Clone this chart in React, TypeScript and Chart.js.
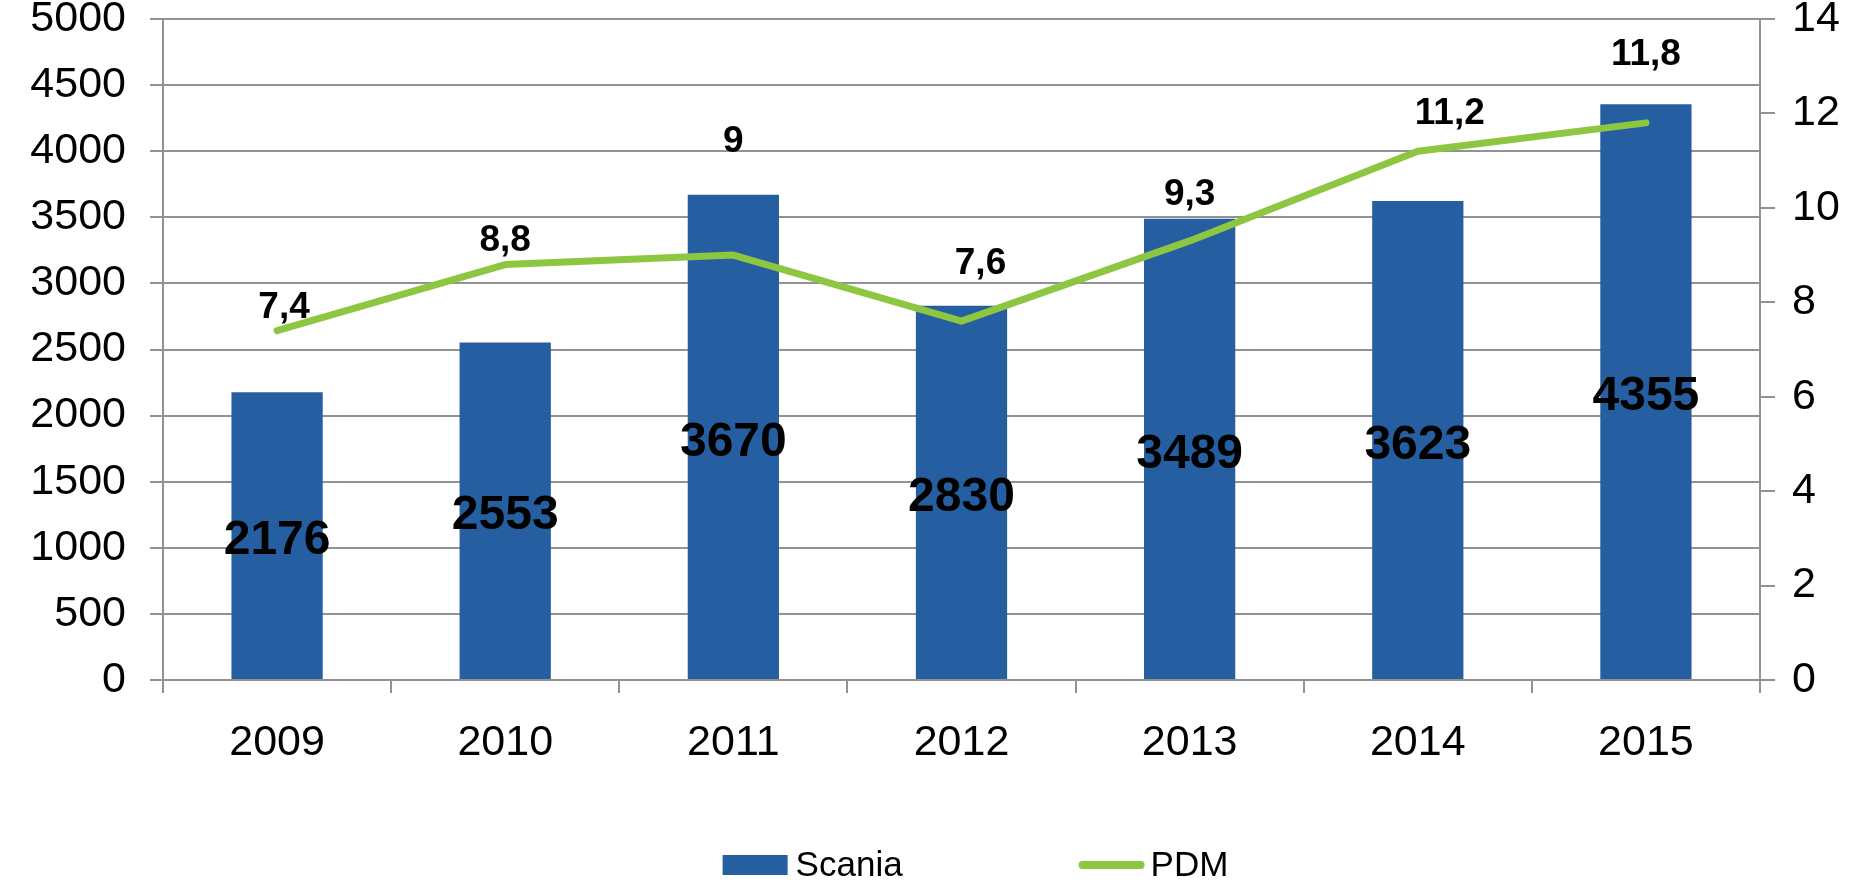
import React, { useEffect, useRef } from 'react';
import { Chart, registerables } from 'chart.js';

Chart.register(...registerables);

// ---- data ----
const categories = ['2009', '2010', '2011', '2012', '2013', '2014', '2015'];
const scaniaValues = [2176, 2553, 3670, 2830, 3489, 3623, 4355];
const pdmValues = [7.4, 8.8, 9, 7.6, 9.3, 11.2, 11.8];
const seriesNames = ['Scania', 'PDM'];
const leftAxis = { min: 0, max: 5000, step: 500 };
const rightAxis = { min: 0, max: 14, step: 2 };

// ---- styling ----
const BLUE = '#265FA1';
const GREEN = '#8DC641';
const GRID = '#929292';
const FONT = '"Liberation Sans", Arial, sans-serif';
const TICK_SIZE = 43;
// label offsets (px) of the PDM value labels relative to their points
const pdmLabelDx = [7, 0, 0, 19, 0, 32, 0];
const pdmLabelDy = [-23, -24, -113, -57, -46, -37, -68];
const barLabelDy = 5;

const fmt = (v: number) => String(v).replace('.', ',');

const labelPlugin = {
  id: 'valueLabels',
  afterDatasetsDraw(chart: any) {
    const ctx = chart.ctx;
    const y = chart.scales.y;
    const barMeta = chart.getDatasetMeta(0);
    const lineMeta = chart.getDatasetMeta(1);
    ctx.save();
    ctx.fillStyle = '#000';
    ctx.textAlign = 'center';
    ctx.textBaseline = 'middle';
    ctx.font = `bold 48px ${FONT}`;
    barMeta.data.forEach((el: any, i: number) => {
      const v = scaniaValues[i];
      ctx.fillText(String(v), el.x, y.getPixelForValue(v / 2) + barLabelDy);
    });
    ctx.font = `bold 37px ${FONT}`;
    lineMeta.data.forEach((el: any, i: number) => {
      ctx.fillText(fmt(pdmValues[i]), el.x + pdmLabelDx[i], el.y + pdmLabelDy[i]);
    });
    ctx.restore();
  },
};

const legendPlugin = {
  id: 'customLegend',
  afterDraw(chart: any) {
    const ctx = chart.ctx;
    ctx.save();
    ctx.font = `35px ${FONT}`;
    ctx.textBaseline = 'middle';
    ctx.textAlign = 'left';
    const w1 = ctx.measureText(seriesNames[0]).width;
    const w2 = ctx.measureText(seriesNames[1]).width;
    const boxW = 65, boxH = 20, gapText = 8, gapItems = 176, lineW = 66, gapText2 = 6;
    const total = boxW + gapText + w1 + gapItems + lineW + gapText2 + w2;
    const cy = chart.height - 18;
    let x = chart.width / 2 + 48 - total / 2;
    ctx.fillStyle = BLUE;
    ctx.fillRect(x, cy - boxH / 2, boxW, boxH);
    x += boxW + gapText;
    ctx.fillStyle = '#000';
    ctx.fillText(seriesNames[0], x, cy + 1);
    x += w1 + gapItems;
    ctx.strokeStyle = GREEN;
    ctx.lineWidth = 8;
    ctx.lineCap = 'round';
    ctx.beginPath();
    ctx.moveTo(x + 4, cy);
    ctx.lineTo(x + lineW - 4, cy);
    ctx.stroke();
    x += lineW + gapText2;
    ctx.fillText(seriesNames[1], x, cy + 1);
    ctx.restore();
  },
};

export default function App() {
  const ref = useRef<HTMLCanvasElement | null>(null);

  useEffect(() => {
    document.body.style.margin = '0';
    if (!ref.current) return;
    const chart = new Chart(ref.current, {
      type: 'bar',
      data: {
        labels: categories,
        datasets: [
          {
            type: 'bar',
            label: seriesNames[0],
            data: scaniaValues,
            backgroundColor: BLUE,
            yAxisID: 'y',
            barPercentage: 0.4,
            categoryPercentage: 1,
            order: 2,
          },
          {
            type: 'line',
            label: seriesNames[1],
            data: pdmValues,
            borderColor: GREEN,
            backgroundColor: GREEN,
            borderWidth: 7,
            pointRadius: 0,
            borderCapStyle: 'round',
            borderJoinStyle: 'round',
            tension: 0,
            yAxisID: 'y1',
            order: 1,
          },
        ],
      } as any,
      options: {
        responsive: false,
        animation: false,
        devicePixelRatio: 1,
        layout: { padding: { top: 19, bottom: 113, left: 0, right: 0 } },
        plugins: {
          legend: { display: false },
          tooltip: { enabled: false },
        },
        scales: {
          x: {
            offset: true,
            grid: {
              offset: true,
              drawOnChartArea: false,
              drawTicks: true,
              tickLength: 13,
              color: GRID,
              lineWidth: 2,
            },
            border: { display: true, color: GRID, width: 2 },
            ticks: {
              color: '#000',
              font: { family: FONT, size: TICK_SIZE, lineHeight: 1 },
              padding: 29,
              maxRotation: 0,
            },
            afterFit: (s: any) => {
              s.height = 90;
              s.paddingLeft = 0;
              s.paddingRight = 0;
            },
          },
          y: {
            position: 'left',
            min: leftAxis.min,
            max: leftAxis.max,
            ticks: {
              stepSize: leftAxis.step,
              color: '#000',
              font: { family: FONT, size: TICK_SIZE, lineHeight: 1 },
              padding: 24,
              callback: (v: any) => String(v),
            },
            grid: {
              color: GRID,
              lineWidth: 2,
              tickLength: 13,
              drawTicks: true,
            },
            border: { display: true, color: GRID, width: 2 },
            afterFit: (s: any) => {
              s.width = 163;
              s.paddingTop = 0;
              s.paddingBottom = 0;
            },
          },
          y1: {
            position: 'right',
            min: rightAxis.min,
            max: rightAxis.max,
            ticks: {
              stepSize: rightAxis.step,
              color: '#000',
              font: { family: FONT, size: TICK_SIZE, lineHeight: 1 },
              padding: 17,
              callback: (v: any) => String(v),
            },
            grid: {
              drawOnChartArea: false,
              drawTicks: true,
              tickLength: 15,
              color: GRID,
              lineWidth: 2,
            },
            border: { display: true, color: GRID, width: 2 },
            afterFit: (s: any) => {
              s.width = 95;
              s.paddingTop = 0;
              s.paddingBottom = 0;
            },
          },
        },
      } as any,
      plugins: [labelPlugin, legendPlugin],
    });
    return () => chart.destroy();
  }, []);

  return (
    <div style={{ width: 1855, height: 883 }}>
      <canvas ref={ref} width={1855} height={883} style={{ display: 'block' }} />
    </div>
  );
}
